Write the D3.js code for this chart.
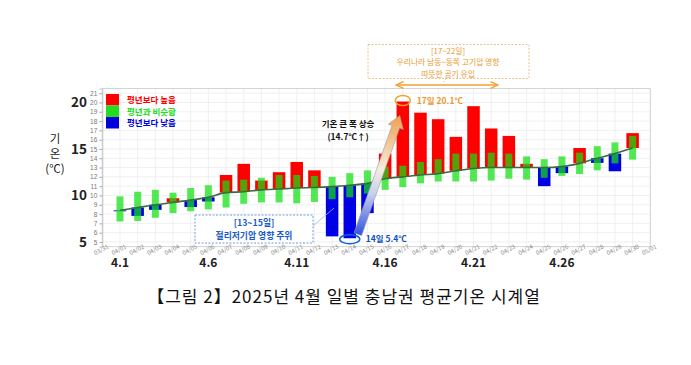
<!DOCTYPE html>
<html><head><meta charset="utf-8">
<script src="https://cdn.jsdelivr.net/npm/d3@7"></script>
<style>
body{margin:0;background:#fff;}
svg{display:block;font-family:"Noto Sans CJK KR","Noto Sans",sans-serif;}
</style>
</head><body>
<svg id="c" width="691" height="365"></svg>
<script>
const dates = ["04/01","04/02","04/03","04/04","04/05","04/06","04/07","04/08","04/09","04/10",
  "04/11","04/12","04/13","04/14","04/15","04/16","04/17","04/18","04/19","04/20",
  "04/21","04/22","04/23","04/24","04/25","04/26","04/27","04/28","04/29","04/30"];
const normal = [8.4,8.7,9.0,9.25,9.5,9.8,10.3,10.4,10.6,10.7,
  10.8,10.85,10.95,11.1,11.3,11.8,12.0,12.2,12.35,12.65,
  12.9,13.0,13.0,13.0,13.0,13.1,13.45,14.0,14.5,15.1];
const actual = [8.3,7.8,8.45,9.7,8.75,9.35,12.2,13.4,11.6,12.5,
  13.6,12.7,5.6,5.4,8.1,14.5,20.1,18.9,18.2,16.3,
  19.6,17.2,16.4,13.4,11.0,12.4,15.1,13.5,12.6,16.7];
const rangeLow = [7.2,7.25,7.6,8.1,8.3,8.5,8.7,9.1,9.25,9.25,
  9.15,9.3,9.6,9.8,10.2,10.6,10.9,11.3,11.5,11.5,
  11.5,11.6,11.8,11.7,11.9,12.1,12.3,12.7,13.45,13.85];
const rangeHigh = [9.9,10.4,10.6,10.3,10.8,11.1,11.6,11.7,11.9,12.2,
  12.2,12.1,12.0,12.4,12.7,13.1,13.2,13.6,13.9,14.5,
  14.5,14.6,14.5,14.2,13.9,14.2,14.6,15.3,15.7,16.4];
const tickDates = ["03/31","04/01","04/02","04/03","04/04","04/05","04/06","04/07","04/08","04/09","04/10",
  "04/11","04/12","04/13","04/14","04/15","04/16","04/17","04/18","04/19","04/20",
  "04/21","04/22","04/23","04/24","04/25","04/26","04/27","04/28","04/29","04/30","05/01"];
const majorDates = ["04/01","04/06","04/11","04/16","04/21","04/26"];
const majorLabels = ["4.1","4.6","4.11","4.16","4.21","4.26"];
const yMinorTicks = [5,6,7,8,9,10,11,12,13,14,15,16,17,18,19,20,21];
const yMajorTicks = [5,10,15,20];
const legendLabels = ["평년보다 높음","평년과 비슷함","평년보다 낮음"];
const legendColors = ["#ff0000","#22dd22","#0000dd"];
const caption = "【그림 2】2025년 4월 일별 충남권 평균기온 시계열";

const svg = d3.select("#c");
const L = 102.3, R = 650.3, T = 88.5, B = 246.6;
const x = d3.scalePoint().domain(tickDates).range([L, R]);
const y = d3.scaleLinear().domain([4.5, 21.5]).range([B, T]);
const data = dates.map((d,i)=>({d, n:normal[i], a:actual[i], lo:rangeLow[i], hi:rangeHigh[i]}));

// grid
const g = svg.append("g");
g.selectAll("line.vg").data(tickDates).join("line")
  .attr("x1",d=>x(d)).attr("x2",d=>x(d)).attr("y1",T).attr("y2",B)
  .attr("stroke","#ececec").attr("stroke-width",0.8);
g.selectAll("line.hg").data(yMinorTicks).join("line").attr("class","hg")
  .attr("x1",L).attr("x2",R).attr("y1",d=>y(d)).attr("y2",d=>y(d))
  .attr("stroke","#ececec").attr("stroke-width",0.8);
svg.append("rect").attr("x",L).attr("y",T).attr("width",R-L).attr("height",B-T)
  .attr("fill","none").attr("stroke","#d4d4d4").attr("stroke-width",1);

// y axis small
const ya = svg.append("g").attr("transform",`translate(${L},0)`)
  .call(d3.axisLeft(y).tickValues(yMinorTicks).tickSize(3).tickFormat(d3.format("d")));
ya.select(".domain").attr("stroke","#c8c8c8");
ya.selectAll(".tick line").attr("stroke","#aaa");
ya.selectAll("text").attr("font-size",6.5).attr("fill","#777").attr("dx",1);

// x axis small rotated labels
svg.append("g").selectAll("text").data(tickDates).join("text")
  .attr("transform",d=>`translate(${x(d)},${B+5}) rotate(-28)`)
  .attr("text-anchor","middle").attr("font-size",6).attr("fill","#8a8a8a")
  .text(d=>d);

// bars
const bw = 12.5, gw = 7;
svg.append("g").selectAll("rect").data(data).join("rect")
  .attr("x",d=>x(d.d)-bw/2).attr("width",bw)
  .attr("y",d=>y(Math.max(d.a,d.n))).attr("height",d=>Math.abs(y(d.a)-y(d.n)))
  .attr("fill",d=>d.a>d.n?"#ff0000":"#0000e6");
svg.append("g").selectAll("rect").data(data).join("rect")
  .attr("x",d=>x(d.d)-gw/2).attr("width",gw)
  .attr("y",d=>y(d.hi)).attr("height",d=>y(d.lo)-y(d.hi))
  .attr("fill","#10e010").attr("fill-opacity",0.72);

// normal line
svg.append("path").datum(data)
  .attr("d",d3.line().x(d=>x(d.d)).y(d=>y(d.n)).curve(d3.curveMonotoneX))
  .attr("fill","none").attr("stroke","#3b6a43").attr("stroke-width",1.6);

// big labels
svg.append("g").selectAll("text").data(majorDates).join("text")
  .attr("x",d=>x(d)).attr("y",267).attr("text-anchor","middle")
  .attr("font-size",12).attr("font-weight","bold").attr("fill","#222")
  .text((d,i)=>majorLabels[i]);
svg.append("g").selectAll("text").data(yMajorTicks).join("text")
  .attr("x",87).attr("y",d=>y(d)+5).attr("text-anchor","end")
  .attr("font-size",13.5).attr("font-weight","bold").attr("fill","#222")
  .text(d=>d);
const yt = svg.append("g").attr("fill","#222").attr("font-size",11.5).attr("text-anchor","middle");
yt.append("text").attr("x",55).attr("y",143).text("기");
yt.append("text").attr("x",55).attr("y",158).text("온");
yt.append("text").attr("x",55).attr("y",173).text("(℃)");

// legend
const lg = svg.append("g");
legendLabels.forEach((t,i)=>{
  lg.append("rect").attr("x",106).attr("y",94+i*11.5).attr("width",13).attr("height",11.5).attr("fill",legendColors[i]);
  lg.append("text").attr("x",127).attr("y",103+i*11.5).attr("font-size",8.5).attr("font-weight","bold")
    .attr("fill",legendColors[i]).text(t);
});

// annotations
const orange = "#f0a030";
svg.append("rect").attr("x",368).attr("y",44.5).attr("width",161).attr("height",34)
  .attr("fill","#fff").attr("stroke","#e8b070").attr("stroke-dasharray","2,1.5").attr("stroke-width",0.8);
const at = svg.append("g").attr("fill","#e89a30").attr("font-size",7.8).attr("text-anchor","middle");
at.append("text").attr("x",448).attr("y",53.5).text("[17~22일]");
at.append("text").attr("x",448).attr("y",65).text("우리나라 남동~동쪽 고기압 영향");
at.append("text").attr("x",448).attr("y",76.5).text("따뜻한 공기 유입");
svg.append("line").attr("x1",446).attr("y1",78.5).attr("x2",443).attr("y2",83)
  .attr("stroke","#e8b070").attr("stroke-dasharray","1.5,1.5").attr("stroke-width",0.8);
const defs = svg.append("defs");
defs.append("marker").attr("id","ah").attr("viewBox","0 0 10 10").attr("refX",8).attr("refY",5)
  .attr("markerWidth",6).attr("markerHeight",6).attr("orient","auto-start-reverse")
  .append("path").attr("d","M0,1 L9,5 L0,9").attr("fill","none").attr("stroke",orange).attr("stroke-width",1.6);
svg.append("line").attr("x1",x("04/17")-6).attr("x2",x("04/22")+6).attr("y1",85).attr("y2",85)
  .attr("stroke",orange).attr("stroke-width",1.4)
  .attr("marker-start","url(#ah)").attr("marker-end","url(#ah)");

// 17th circle + text
svg.append("ellipse").attr("cx",x("04/17")).attr("cy",y(20.1)-1).attr("rx",7.5).attr("ry",5)
  .attr("fill","none").attr("stroke",orange).attr("stroke-width",1.5);
svg.append("text").attr("x",x("04/17")+14).attr("y",y(20.1)+2).attr("font-size",8.5).attr("font-weight","bold")
  .attr("fill","#e89a30").text("17일 20.1℃");

// rising text
const rt = svg.append("g").attr("fill","#111").attr("font-size",8.5).attr("text-anchor","middle").attr("font-weight","bold");
rt.append("text").attr("x",348).attr("y",127).text("기온 큰 폭 상승");
rt.append("text").attr("x",348).attr("y",140).text("(14.7℃↑)");

// big gradient arrow
const grad = defs.append("linearGradient").attr("id","ag").attr("x1","0").attr("y1","1").attr("x2","0").attr("y2","0");
grad.append("stop").attr("offset","0").attr("stop-color","#3050e0");
grad.append("stop").attr("offset","0.35").attr("stop-color","#c8d0f0");
grad.append("stop").attr("offset","0.55").attr("stop-color","#f5ede0");
grad.append("stop").attr("offset","1").attr("stop-color","#f0a050");
(function(){
  const sx = x("04/14")+8, sy = y(5.4)-4, tx = x("04/17")-3, ty = y(20.1)+14;
  const dx = tx-sx, dy = ty-sy, len = Math.hypot(dx,dy);
  const ux = dx/len, uy = dy/len, px = -uy, py = ux;
  const hw = 4, hh = 8, hl = 12;
  const bx = tx-ux*hl, by = ty-uy*hl;
  const pts = [[sx+px*hw,sy+py*hw],[bx+px*hw,by+py*hw],[bx+px*hh,by+py*hh],[tx,ty],
    [bx-px*hh,by-py*hh],[bx-px*hw,by-py*hw],[sx-px*hw,sy-py*hw]];
  svg.append("polygon").attr("points",pts.map(p=>p.join(",")).join(" "))
    .attr("fill","url(#ag)").attr("stroke","#9a9a9a").attr("stroke-width",0.6);
})();

// 14th ellipse + text
svg.append("ellipse").attr("cx",x("04/14")).attr("cy",y(5.4)+1).attr("rx",10).attr("ry",4.5)
  .attr("fill","none").attr("stroke","#1060e0").attr("stroke-width",1.5);
svg.append("text").attr("x",x("04/14")+16).attr("y",y(5.4)+3.5).attr("font-size",8.5).attr("font-weight","bold")
  .attr("fill","#1050c0").text("14일 5.4℃");

// 13~15 box
svg.append("line").attr("x1",313).attr("y1",226).attr("x2",x("04/13")+2).attr("y2",208)
  .attr("stroke","#9ab8e8").attr("stroke-width",0.8);
svg.append("rect").attr("x",195).attr("y",215).attr("width",118).attr("height",28)
  .attr("fill","#fff").attr("stroke","#4a88d8").attr("stroke-dasharray","2,1.5").attr("stroke-width",0.8);
const bt = svg.append("g").attr("fill","#1a5cc8").attr("font-size",8.8).attr("text-anchor","middle").attr("font-weight","bold");
bt.append("text").attr("x",254).attr("y",226).text("[13~15일]");
bt.append("text").attr("x",254).attr("y",239).text("절리저기압 영향 주위");

// caption
svg.append("text").attr("x",344).attr("y",303).attr("text-anchor","middle")
  .attr("font-size",17).attr("letter-spacing",1).attr("fill","#111").text(caption);
</script>
</body></html>
